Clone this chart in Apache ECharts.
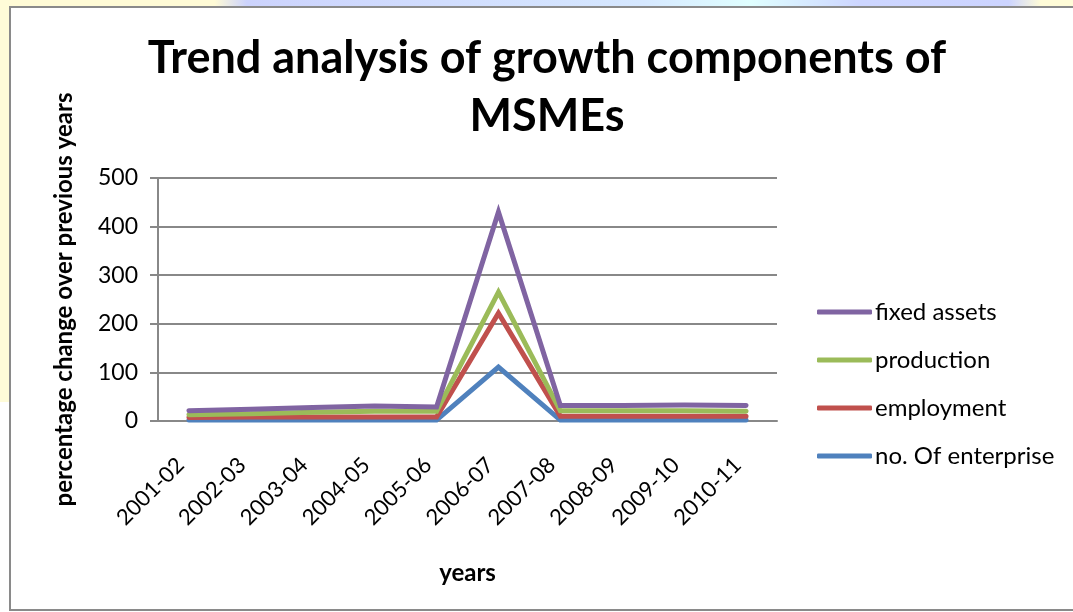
<!DOCTYPE html>
<html>
<head>
<meta charset="utf-8">
<script src="https://cdn.jsdelivr.net/npm/echarts@6/dist/echarts.min.js"></script>
<style>
  html, body { margin: 0; padding: 0; width: 1073px; height: 612px; overflow: hidden; background: #fff; }
  #topStrip { position: absolute; left: 0; top: 0; width: 1073px; height: 7px;
    background: linear-gradient(90deg, #fffbd6 0%, #fffbd6 20%, #ccd3fd 23%, #d6e8ff 60%, #e0ffff 70%, #cdd6ff 80%, #ccd4ff 94%, #fffcd8 97%); }
  #leftStrip { position: absolute; left: 0; top: 0; width: 10px; height: 402px; background: #fffcd8; }
  #frame { position: absolute; left: 9px; top: 6px; width: 1080px; height: 601px; border: 2px solid #8a8a8a; border-right: none; background: #fff; }
  #chart { position: absolute; left: 12px; top: 9px; width: 1070px; height: 599px; }
</style>
</head>
<body>
<div id="topStrip"></div>
<div id="leftStrip"></div>
<div id="frame"></div>
<div id="chart"></div>
<script>
// Data
const years = ['2001-02', '2002-03', '2003-04', '2004-05', '2005-06',
               '2006-07', '2007-08', '2008-09', '2009-10', '2010-11'];
const enterprise = [2, 2, 2, 2, 2, 111, 2, 2, 2, 2];
const employment = [7, 8, 8, 8, 8, 222, 10, 10, 10, 10];
const production = [13, 15, 18, 20, 20, 265, 21, 21, 21, 20];
const fixedAssets = [21, 24, 28, 31, 29, 430, 32, 32, 33, 32];

const FONT = 'Lato, "Open Sans", sans-serif';

function lineSeries(name, data, color) {
    return {
        name: name,
        type: 'line',
        data: data,
        symbol: 'none',
        lineStyle: { color: color, width: 5, cap: 'round', join: 'miter' },
        itemStyle: { color: color },
        animation: false
    };
}

const chart = echarts.init(document.getElementById('chart'));
chart.setOption({
    animation: false,
    title: {
        text: 'Trend analysis of growth components of\nMSMEs',
        left: 'center',
        top: 15,
        textStyle: { fontFamily: FONT, fontSize: 45, fontWeight: 'bold', color: '#000', lineHeight: 58 }
    },
    grid: { left: 146, top: 169, width: 619, height: 243 },
    legend: {
        orient: 'vertical',
        left: 800,
        top: 286,
        itemGap: 24,
        itemWidth: 55,
        itemHeight: 5,
        icon: 'roundRect',
        data: ['fixed assets', 'production', 'employment', 'no. Of enterprise'],
        textStyle: { fontFamily: FONT, fontSize: 24, color: '#000', padding: [0, 0, 0, -2] }
    },
    xAxis: {
        type: 'category',
        data: years,
        boundaryGap: true,
        name: 'years',
        nameLocation: 'middle',
        nameGap: 140,
        nameTextStyle: { fontFamily: FONT, fontSize: 24, fontWeight: 'bold', color: '#000' },
        axisLine: { lineStyle: { color: '#888', width: 2 } },
        axisTick: { show: false },
        axisLabel: {
            rotate: 45, fontFamily: FONT, fontSize: 22, color: '#000', margin: 32, interval: 0,
            padding: [0, 12, 0, 0]
        }
    },
    yAxis: {
        type: 'value',
        min: 0,
        max: 500,
        interval: 100,
        name: 'percentage change over previous years',
        nameLocation: 'middle',
        nameGap: 82,
        nameTextStyle: { fontFamily: FONT, fontSize: 24, fontWeight: 'bold', color: '#000' },
        axisLine: { show: true, lineStyle: { color: '#888', width: 2 } },
        axisTick: { show: true, length: 8, lineStyle: { color: '#888', width: 2 } },
        splitLine: { lineStyle: { color: '#888', width: 2 } },
        axisLabel: { fontFamily: FONT, fontSize: 23, color: '#000', margin: 20 }
    },
    series: [
        lineSeries('no. Of enterprise', enterprise, '#4F81BD'),
        lineSeries('employment', employment, '#C0504D'),
        lineSeries('production', production, '#9BBB59'),
        lineSeries('fixed assets', fixedAssets, '#8064A2')
    ]
});
</script>
</body>
</html>
